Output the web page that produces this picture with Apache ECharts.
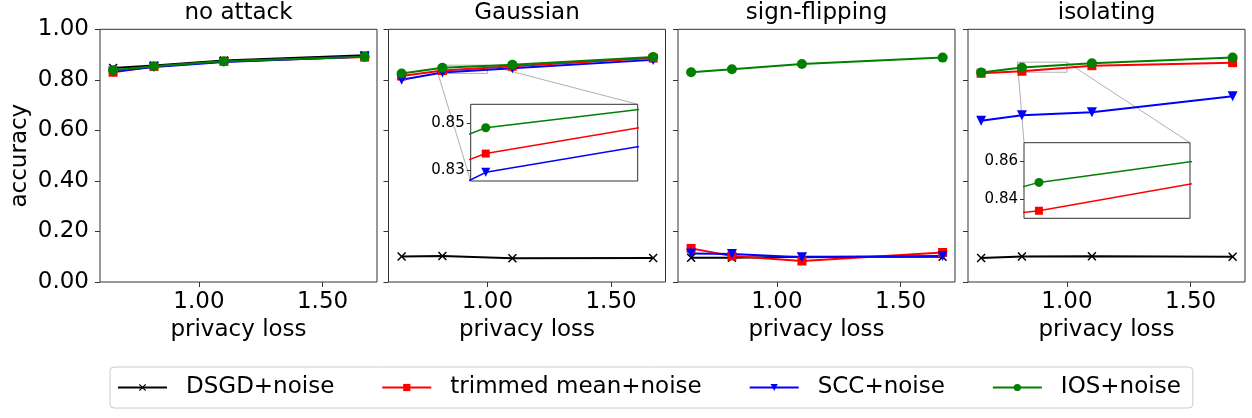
<!DOCTYPE html>
<html><head><meta charset="utf-8">
<script src="https://cdn.jsdelivr.net/npm/echarts@6/dist/echarts.min.js"></script>
<style>html,body{margin:0;padding:0;background:#fff}#c{width:1252px;height:418px}</style>
</head><body><div id="c"></div>
<script>
// ---------------- data ----------------
const xValues = [0.653, 0.818, 1.101, 1.670];
const panelTitles = ['no attack', 'Gaussian', 'sign-flipping', 'isolating'];
const seriesNames = ['DSGD+noise', 'trimmed mean+noise', 'SCC+noise', 'IOS+noise'];
const xTicks = [1.0, 1.5];

const noAttackDSGD    = [0.847, 0.857, 0.877, 0.897];
const noAttackTrimmed = [0.830, 0.853, 0.873, 0.890];
const noAttackSCC     = [0.833, 0.851, 0.871, 0.892];
const noAttackIOS     = [0.838, 0.854, 0.874, 0.891];

const gaussianDSGD    = [0.101, 0.103, 0.094, 0.095];
const gaussianTrimmed = [0.815, 0.837, 0.854, 0.886];
const gaussianSCC     = [0.800, 0.829, 0.846, 0.879];
const gaussianIOS     = [0.825, 0.848, 0.860, 0.890];

const signFlipDSGD    = [0.096, 0.096, 0.100, 0.100];
const signFlipTrimmed = [0.133, 0.103, 0.083, 0.117];
const signFlipSCC     = [0.113, 0.111, 0.098, 0.103];
const signFlipIOS     = [0.830, 0.842, 0.863, 0.888];

const isolatingDSGD    = [0.095, 0.101, 0.102, 0.100];
const isolatingTrimmed = [0.826, 0.834, 0.856, 0.868];
const isolatingSCC     = [0.638, 0.660, 0.672, 0.735];
const isolatingIOS     = [0.829, 0.849, 0.866, 0.888];

const gaussInsetX = [0.80, 1.00];
const gaussInsetY = [0.8253, 0.858];
const gaussInsetTicks = [0.83, 0.85];
const isoInsetX = [0.80, 1.00];
const isoInsetY = [0.830, 0.870];
const isoInsetTicks = [0.84, 0.86];

// ---------------- build ----------------
const FONT = 'DejaVu Sans';
const panelData = [
  [noAttackDSGD, noAttackTrimmed, noAttackSCC, noAttackIOS],
  [gaussianDSGD, gaussianTrimmed, gaussianSCC, gaussianIOS],
  [signFlipDSGD, signFlipTrimmed, signFlipSCC, signFlipIOS],
  [isolatingDSGD, isolatingTrimmed, isolatingSCC, isolatingIOS]
];
const colors = ['#000000', '#ff0000', '#0000ff', '#008000'];
const xPath = 'path://M0,1.2 L1.2,0 L5,3.8 L8.8,0 L10,1.2 L6.2,5 L10,8.8 L8.8,10 L5,6.2 L1.2,10 L0,8.8 L3.8,5 Z';
const symbols = [xPath, 'rect', 'triangle', 'circle'];
const symRot = [0, 0, 180, 0];
const symSize = [9, 9, 10, 10];
const insetSymSize = [8, 8, 9, 9];

const gridLefts = [100, 388.5, 678, 968];
const gridW = 277, gridTop = 29.3, gridH = 252.7;

const grids = [], xAxes = [], yAxes = [], series = [], titles = [];
gridLefts.forEach((l, i) => {
  grids.push({left: l, top: gridTop, width: gridW, height: gridH, show: true,
    borderColor: '#333', borderWidth: 1, backgroundColor: 'transparent', containLabel: false});
  xAxes.push({type: 'value', gridIndex: i, min: 0.60, max: 1.72,
    name: 'privacy loss', nameLocation: 'middle', nameGap: 35,
    nameTextStyle: {fontSize: 23, fontFamily: FONT, color: '#000'},
    axisLine: {show: false}, splitLine: {show: false},
    axisTick: {show: true, inside: false, length: 5, customValues: xTicks, lineStyle: {color: '#333'}},
    axisLabel: {customValues: xTicks, fontSize: 23, fontFamily: FONT, color: '#000', margin: 9,
      formatter: v => v.toFixed(2)}});
  yAxes.push({type: 'value', gridIndex: i, min: 0, max: 1, interval: 0.2,
    name: i === 0 ? 'accuracy' : '', nameLocation: 'middle', nameGap: 68,
    nameTextStyle: {fontSize: 23, fontFamily: FONT, color: '#000'},
    axisLine: {show: false}, splitLine: {show: false},
    axisTick: {show: true, inside: false, length: 5, lineStyle: {color: '#333'}},
    axisLabel: {show: i === 0, fontSize: 23, fontFamily: FONT, color: '#000', margin: 11,
      formatter: v => v.toFixed(2)}});
  titles.push({text: panelTitles[i], left: l + gridW / 2, top: 2, textAlign: 'center', padding: 0,
    textStyle: {fontSize: 23, fontWeight: 'normal', fontFamily: FONT, color: '#000'}});
  panelData[i].forEach((vals, k) => {
    series.push({type: 'line', name: seriesNames[k], xAxisIndex: i, yAxisIndex: i,
      data: xValues.map((x, j) => [x, vals[j]]),
      symbol: symbols[k], symbolRotate: symRot[k], symbolSize: symSize[k], showAllSymbol: true,
      lineStyle: {color: colors[k], width: 2}, itemStyle: {color: colors[k]},
      emphasis: {disabled: true}, animation: false, z: 3});
  });
});

// insets
const insets = [
  {panel: 1, rect: {left: 470.7, top: 104.3, width: 167, height: 76.7}, xr: gaussInsetX, yr: gaussInsetY, ticks: gaussInsetTicks},
  {panel: 3, rect: {left: 1024, top: 142.7, width: 166, height: 75.6}, xr: isoInsetX, yr: isoInsetY, ticks: isoInsetTicks}
];
insets.forEach((ins, n) => {
  const gi = 4 + n;
  grids.push(Object.assign({show: true, borderColor: '#333', borderWidth: 1, backgroundColor: '#fff', z: 10}, ins.rect));
  xAxes.push({type: 'value', gridIndex: gi, min: ins.xr[0], max: ins.xr[1], z: 11,
    axisLine: {show: false}, splitLine: {show: false}, axisTick: {show: false}, axisLabel: {show: false}});
  yAxes.push({type: 'value', gridIndex: gi, min: ins.yr[0], max: ins.yr[1], z: 11,
    axisLine: {show: false}, splitLine: {show: false},
    axisTick: {show: true, inside: false, length: 4, customValues: ins.ticks, lineStyle: {color: '#333'}},
    axisLabel: {customValues: ins.ticks, fontSize: 15, fontFamily: FONT, color: '#000', margin: 6,
      formatter: v => v.toFixed(2)}});
  panelData[ins.panel].forEach((vals, k) => {
    series.push({type: 'line', name: seriesNames[k], xAxisIndex: gi, yAxisIndex: gi,
      data: xValues.map((x, j) => [x, vals[j]]), clip: true,
      symbol: symbols[k], symbolRotate: symRot[k], symbolSize: insetSymSize[k], showAllSymbol: true,
      lineStyle: {color: colors[k], width: 1.5}, itemStyle: {color: colors[k]},
      emphasis: {disabled: true}, animation: false, z: 12});
  });
  // zoom rectangle in the main panel
  series.push({type: 'line', name: '_zoom' + n, xAxisIndex: ins.panel, yAxisIndex: ins.panel,
    data: [[ins.xr[0], ins.yr[0]], [ins.xr[1], ins.yr[0]], [ins.xr[1], ins.yr[1]], [ins.xr[0], ins.yr[1]], [ins.xr[0], ins.yr[0]]],
    symbol: 'none', lineStyle: {color: '#b0b0b0', width: 1}, silent: true, animation: false, z: 1});
});

const option = {
  backgroundColor: '#fff',
  animation: false,
  title: titles,
  grid: grids, xAxis: xAxes, yAxis: yAxes, series: series,
  legend: {data: seriesNames, left: 110, top: 367, orient: 'horizontal',
    itemWidth: 49, itemHeight: 9, itemGap: 47, padding: [9, 12, 9, 7],
    borderColor: '#cccccc', borderWidth: 1, borderRadius: 4, backgroundColor: '#fff',
    textStyle: {fontSize: 23, fontFamily: FONT, color: '#000', padding: [0, 0, 0, 14]}}
};
const chart = echarts.init(document.getElementById('c'), null, {renderer: 'canvas'});
chart.setOption(option);

// connector lines from zoom rectangles to inset boxes
const conns = [];
const cornerPairs = [
  [[1, 1], [0, 0]],   // Gaussian: top-right, bottom-left
  [[1, 1], [0, 1]]    // isolating: top-right, top-left
];
insets.forEach((ins, n) => {
  cornerPairs[n].forEach(c => {
    const p = [ins.xr[c[0]], ins.yr[c[1]]];
    const a = chart.convertToPixel({gridIndex: ins.panel}, p);
    const b = chart.convertToPixel({gridIndex: 4 + n}, p);
    conns.push({type: 'line', z: 1, silent: true,
      shape: {x1: a[0], y1: a[1], x2: b[0], y2: b[1]},
      style: {stroke: '#b0b0b0', lineWidth: 1}});
  });
});
chart.setOption({graphic: conns});
</script></body></html>
